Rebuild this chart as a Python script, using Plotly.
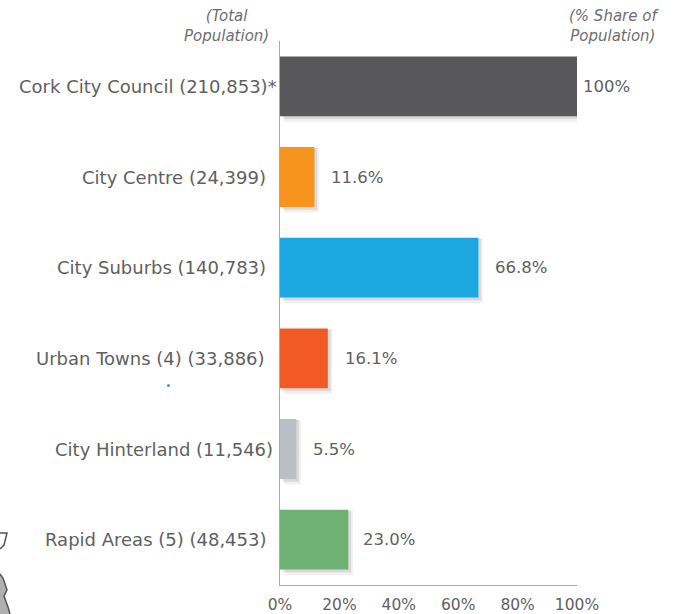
import plotly.graph_objects as go

categories = ["Cork City Council (210,853)*", "City Centre (24,399)", "City Suburbs (140,783)",
              "Urban Towns (4) (33,886)", "City Hinterland (11,546)", "Rapid Areas (5) (48,453)"]
shares = [100, 11.6, 66.8, 16.1, 5.5, 23.0]
value_labels = ["100%", "11.6%", "66.8%", "16.1%", "5.5%", "23.0%"]
colors = ["#58585a", "#f7941e", "#1ba7e0", "#f15a24", "#bcbec5", "#6fb172"]
tick_vals = [0, 20, 40, 60, 80, 100]
tick_text = ["0%", "20%", "40%", "60%", "80%", "100%"]
label_end = [277, 266, 266, 265, 273, 266]
value_gap = [6, 17, 17, 17, 17, 15]

W, H = 673, 614
L, R, T, B = 280, 577, 41, 585
FONT = "DejaVu Sans"
TXT = "#5f5f61"


def px(x):
    return (x - L) / (R - L)


def py(y):
    return (B - y) / (B - T)


fig = go.Figure()
for op, sx, w, off in [(0.08, 1.5, 0.71, -0.32), (0.12, 0.9, 0.68, -0.32)]:
    fig.add_trace(go.Bar(y=categories, x=shares, base=[sx] * 6, orientation="h",
                         width=w, offset=off, marker=dict(color=f"rgba(60,60,60,{op})", line_width=0),
                         hoverinfo="skip", showlegend=False))
fig.add_trace(go.Bar(y=categories, x=shares, orientation="h", width=0.66, offset=-0.33,
                     marker=dict(color=colors, line_width=0), showlegend=False))

fig.update_layout(
    width=W, height=H, autosize=False, barmode="overlay",
    margin=dict(l=L, r=W - R, t=T, b=H - B, pad=0),
    paper_bgcolor="white", plot_bgcolor="white",
    font=dict(family=FONT, color=TXT),
    xaxis=dict(range=[0, 100], tickvals=tick_vals, ticktext=tick_text, showgrid=False, zeroline=False,
               showline=True, linecolor="#a9a9a9", linewidth=1, ticks="", automargin=False,
               tickfont=dict(size=15.5, color=TXT, family=FONT), ticklabelstandoff=5),
    yaxis=dict(categoryorder="array", categoryarray=categories, autorange="reversed", automargin=False,
               showticklabels=False, showgrid=False, zeroline=False, showline=True,
               linecolor="#a9a9a9", linewidth=1, ticks=""),
)

for cat, s, vl, le, vg in zip(categories, shares, value_labels, label_end, value_gap):
    fig.add_annotation(x=px(le), xref="paper", y=cat, yref="y", text=cat, showarrow=False, xanchor="right",
                       xshift=2, font=dict(size=18, color=TXT, family=FONT))
    fig.add_annotation(x=s, y=cat, xref="x", yref="y", text=vl, showarrow=False, xanchor="left",
                       xshift=vg - 2, font=dict(size=16.5, color=TXT, family=FONT))

fig.add_annotation(x=px(271), y=py(26), xref="paper", yref="paper", yanchor="middle", xanchor="right",
                   text="<i>(Total<br>Population)</i>", showarrow=False, align="center",
                   font=dict(size=15, color="#6d6e71", family=FONT))
fig.add_annotation(x=px(661), y=py(26), xref="paper", yref="paper", yanchor="middle", xanchor="right",
                   text="<i>(% Share of<br>Population)</i>", showarrow=False, align="center",
                   font=dict(size=15, color="#6d6e71", family=FONT))


def poly(points, closed):
    d = "M" + " L".join(f"{px(a):.5f},{py(b):.5f}" for a, b in points) + (" Z" if closed else "")
    return d


# fragment of a map outline at the lower-left page edge
fig.add_shape(type="path", xref="paper", yref="paper", layer="above",
              path=poly([(0, 533), (7, 533), (4, 545), (0, 549)], False),
              line=dict(color="#555555", width=1.5))
fig.add_shape(type="path", xref="paper", yref="paper", layer="above",
              path=poly([(-1, 573), (3, 578), (7, 590), (4, 596), (9, 610), (10, 615), (-1, 615)], True),
              fillcolor="#b0b0b0", line=dict(color="#555555", width=1.5))
# small stray teal speck in the original
fig.add_shape(type="circle", xref="paper", yref="paper", layer="above",
              x0=px(167), x1=px(170), y0=py(387), y1=py(384),
              fillcolor="#3aa88a", line_width=0)

fig.write_html("out.html", config={"displayModeBar": False}, post_script="document.body.style.margin='0';")
